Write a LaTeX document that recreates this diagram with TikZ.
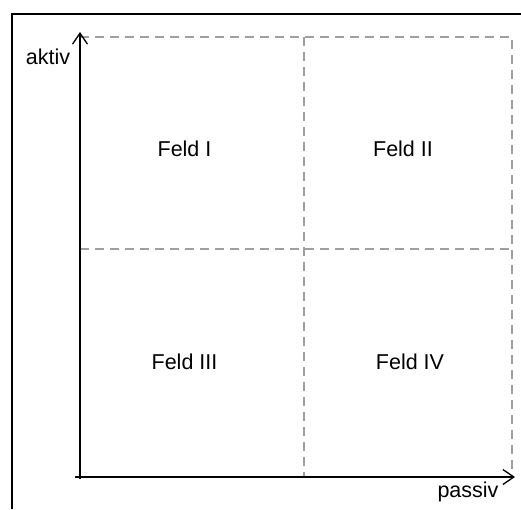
\documentclass[tikz,border=0pt]{standalone}
\usepackage{fontspec}
\setmainfont{Liberation Sans}
\usetikzlibrary{arrows.meta}

\begin{document}
\begin{tikzpicture}[x=1pt, y=-1pt]
\tikzstyle{label}=[inner sep=0pt, font=\fontsize{21.5}{26}\selectfont]
\tikzstyle{axis}=[line width=1.3pt, -{Straight Barb[length=11pt, width=15pt, line width=1.3pt]}]
\tikzstyle{grid}=[line width=1.8pt, gray!75, dash pattern=on 9pt off 6pt]
\useasboundingbox (0,0) rectangle (521,509);

% outer frame (only left and top edges inside the page)
\draw[line width=2pt] (12,509) -- (12,14) -- (521,14);

\coordinate (o) at (80,477);
\coordinate (ytop) at (80,32);
\coordinate (xstart) at (75,477);
\coordinate (xend) at (515,477);
\coordinate (ybot) at (80,479);

% quadrant grid
\draw[grid] (80,37) -- (512,37) -- (512,477);
\draw[grid] (304,37) -- (304,477);
\draw[grid] (80,249) -- (512,249);

% axes
\draw[axis] (ybot) -- (ytop);
\draw[axis] (xstart) -- (xend);

\node[label] (aktiv) at (48,57) {aktiv};
\node[label] (passiv) at (468,492) {passiv};

\node[label] (f1) at (184.5,148.5) {Feld I};
\node[label] (f2) at (403,148.5) {Feld II};
\node[label] (f3) at (184.5,361.5) {Feld III};
\node[label] (f4) at (410,361.5) {Feld IV};

\end{tikzpicture}
\end{document}
